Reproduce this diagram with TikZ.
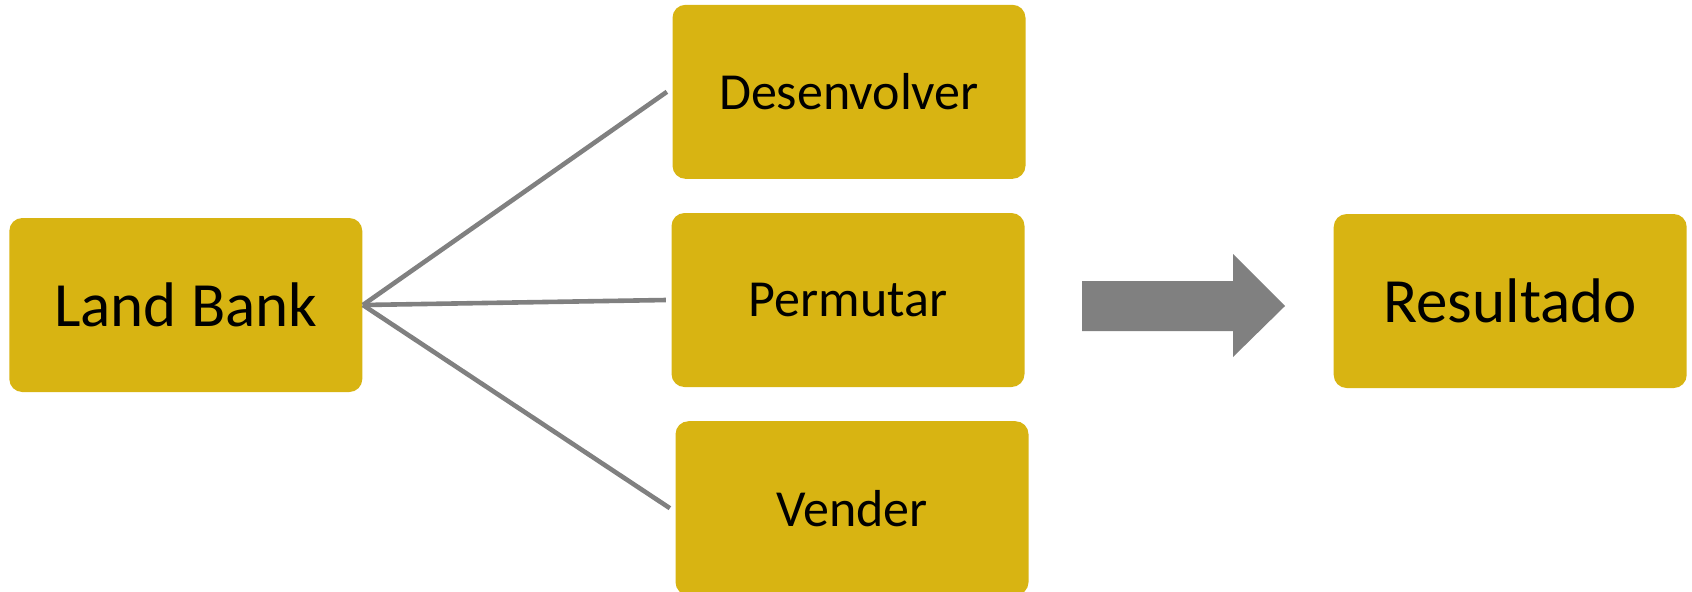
\documentclass[tikz,border=0pt]{standalone}
\usepackage{fontspec}
\setmainfont{Carlito}
\usetikzlibrary{positioning}
\definecolor{gold}{RGB}{216,180,18}
\definecolor{linegray}{RGB}{128,128,128}

\begin{document}
\begin{tikzpicture}[x=0.5pt, y=-0.5pt,
semithick,
block/.style={fill=gold, rectangle, rounded corners=6.5pt, minimum width=176.5pt, minimum height=87pt, inner sep=0pt, font=\fontsize{26}{31}\selectfont},
bigblock/.style={block, font=\fontsize{31.5}{38}\selectfont},
link/.style={draw=linegray, line width=2.3pt}]

\useasboundingbox (0,0) rectangle (1692,591);

\node[block]						(P) at (848,300)			{Permutar};
\node[block]						(D)[above=16.5pt of P, xshift=0.5pt]	{Desenvolver};
\node[block]						(V)[below=16.5pt of P, xshift=2pt]	{Vender};
\node[bigblock]						(L)[left=154pt of P, yshift=-2.5pt]	{Land Bank};
\node[bigblock]						(R)[right=154pt of P, yshift=-0.5pt]	{Resultado};

\path[link]
 (L.east)	edge	([xshift=-2.5pt]D.west)
 (L.east)	edge	([xshift=-2.5pt]P.west)
 (L.east)	edge	([xshift=-2.5pt]V.west);

% block arrow
\fill[linegray] (1082,281) -- (1233,281) -- (1233,254) -- (1285,306) -- (1233,357) -- (1233,331) -- (1082,331) -- cycle;

\end{tikzpicture}
\end{document}
